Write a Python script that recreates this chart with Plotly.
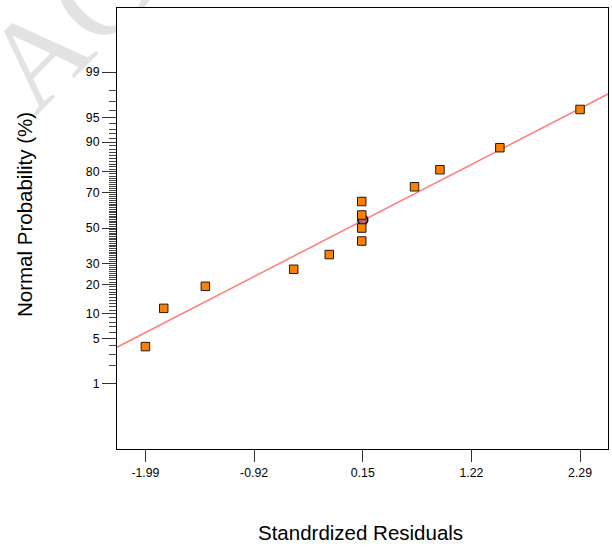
import math
import plotly.graph_objects as go
from statistics import NormalDist

nd = NormalDist()


def probit(p):
    return nd.inv_cdf(p / 100.0)


# ---- data ----
residuals = [-1.99, -1.81, -1.40, -0.53, -0.18, 0.14, 0.14, 0.14, 0.14, 0.66, 0.91, 1.50, 2.29]
probabilities = [3.85, 11.54, 19.23, 26.92, 34.62, 42.31, 50.0, 57.69, 65.38, 73.08, 80.77, 88.46, 96.15]

fit_x = [-2.27, 2.565]
fit_p = [3.77, 97.72]

highlight_x = [0.15]
highlight_p = [54.9]

x_ticks = [-1.99, -0.92, 0.15, 1.22, 2.29]
x_ticklabels = ["-1.99", "-0.92", "0.15", "1.22", "2.29"]
y_ticks = [1, 5, 10, 20, 30, 50, 70, 80, 90, 95, 99]
y_minor = [p for p in range(1, 100) if p not in y_ticks]

x_range = [-2.27, 2.565]
y_range = [-3.296, 3.282]

FONT = "Liberation Sans, Arial, sans-serif"

fig = go.Figure()

fig.add_trace(go.Scatter(
    x=fit_x, y=[probit(p) for p in fit_p], mode="lines",
    line=dict(color="#ff8080", width=1.6), hoverinfo="skip", showlegend=False,
))

fig.add_trace(go.Scatter(
    x=highlight_x, y=[probit(p) for p in highlight_p], mode="markers",
    marker=dict(symbol="circle", size=10, color="#b86464",
                line=dict(color="#111111", width=1.6)),
    showlegend=False,
))

fig.add_trace(go.Scatter(
    x=residuals, y=[probit(p) for p in probabilities], mode="markers",
    marker=dict(symbol="square", size=8.5, color="#ff8000",
                line=dict(color="#1a1a1a", width=1)),
    showlegend=False,
))

fig.update_xaxes(
    range=x_range, tickmode="array", tickvals=x_ticks, ticktext=x_ticklabels,
    ticks="outside", ticklen=12, tickwidth=1, tickcolor="#333333",
    showline=True, linecolor="#000000", linewidth=1, mirror=True,
    showgrid=False, zeroline=False,
    tickfont=dict(family=FONT, size=12.3, color="#000000"),
)

fig.update_yaxes(
    range=y_range, tickmode="array", tickvals=[probit(p) for p in y_ticks],
    ticktext=[str(p) for p in y_ticks],
    ticks="outside", ticklen=14, tickwidth=1, tickcolor="#333333",
    minor=dict(tickmode="array", tickvals=[probit(p) for p in y_minor],
               ticks="outside", ticklen=7, tickwidth=1, tickcolor="#444444",
               showgrid=False),
    showline=True, linecolor="#000000", linewidth=1, mirror=True,
    showgrid=False, zeroline=False,
    tickfont=dict(family=FONT, size=12.3, color="#000000"),
)

L, R, T, B = 117, 4, 8, 99
W, H = 612, 548
pw, ph = W - L - R, H - T - B


def px_x(px):
    return (px - L) / pw


def px_y(py):
    return (H - B - py) / ph


annotations = [
    dict(text="Standrdized Residuals", x=px_x(360), y=px_y(532), xref="paper", yref="paper",
         showarrow=False, xanchor="center", yanchor="middle",
         font=dict(family=FONT, size=20.5, color="#000000")),
    dict(text="Normal Probability (%)", x=px_x(25), y=px_y(215), xref="paper", yref="paper",
         showarrow=False, xanchor="center", yanchor="middle", textangle=-90,
         font=dict(family=FONT, size=20.5, color="#000000")),
]

# faint diagonal watermark, hidden behind the white plotting area
wm_angle = math.radians(45)
wm_cx, wm_cy = 520, -447
wm_half = 300
shapes = [
    dict(type="line", xref="paper", yref="paper", layer="below",
         x0=px_x(wm_cx - wm_half * math.cos(wm_angle)), y0=px_y(wm_cy + wm_half * math.sin(wm_angle)),
         x1=px_x(wm_cx + wm_half * math.cos(wm_angle)), y1=px_y(wm_cy - wm_half * math.sin(wm_angle)),
         line=dict(width=0, color="rgba(0,0,0,0)"),
         label=dict(text="ACCEPTED MANUSCRIPT", textposition="middle", yanchor="middle",
                    font=dict(family="Liberation Serif, serif", size=125, color="#e2e2e2"))),
    dict(type="rect", xref="paper", yref="paper", layer="below",
         x0=0, y0=0, x1=1, y1=1, fillcolor="#ffffff", line=dict(width=0)),
]

fig.update_layout(
    width=W, height=H,
    margin=dict(l=L, r=R, t=T, b=B),
    paper_bgcolor="#ffffff", plot_bgcolor="#ffffff",
    annotations=annotations,
    shapes=shapes,
    showlegend=False,
)

fig.write_html("out.html", config={"displayModeBar": False},
               post_script="document.body.style.margin='0px';")
